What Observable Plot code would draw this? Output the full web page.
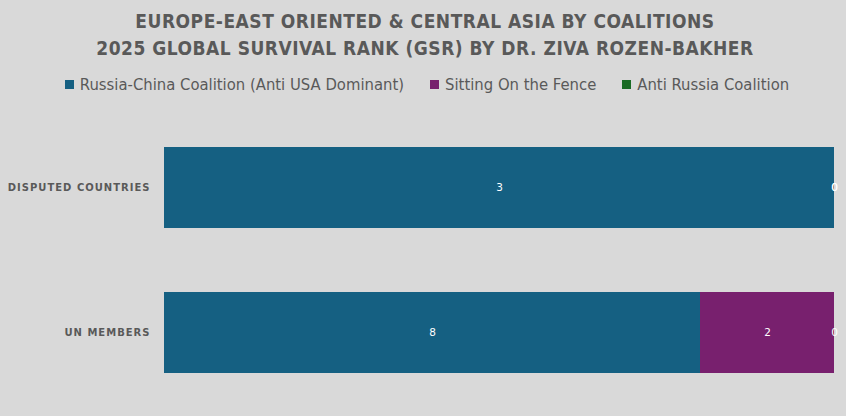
<!DOCTYPE html>
<html>
<head>
<meta charset="utf-8">
<script src="https://cdn.jsdelivr.net/npm/d3@7"></script>
<script src="https://cdn.jsdelivr.net/npm/@observablehq/plot@0.6"></script>
<style>
  html, body { margin: 0; padding: 0; background: #d9d9d9; width: 846px; height: 416px; overflow: hidden; }
  #title { position: absolute; left: 2px; top: 8px; width: 846px; text-align: center; color: #595959;
    font-family: "DejaVu Sans Condensed", sans-serif; font-weight: bold;
    font-size: 19px; line-height: 27px; letter-spacing: 0.5px; }
  #legend { position: absolute; left: 4px; top: 75px; width: 846px; display: flex; justify-content: center;
    gap: 26px; color: #595959; font-family: "DejaVu Sans Condensed", sans-serif; font-size: 16.5px; }
  #legend .item { display: flex; align-items: center; gap: 6px; }
  #legend .sw { width: 9px; height: 9px; display: inline-block; }
  #chart { position: absolute; left: 0; top: 100px; }
  #chart g[aria-label="y-axis tick label"] text { letter-spacing: 1.0px; }
</style>
</head>
<body>
<div id="title"></div>
<div id="legend"></div>
<div id="chart"></div>
<script>
const titleLines = ["EUROPE-EAST ORIENTED & CENTRAL ASIA BY COALITIONS", "2025 GLOBAL SURVIVAL RANK (GSR) BY DR. ZIVA ROZEN-BAKHER"];
const categories = ["DISPUTED COUNTRIES", "UN MEMBERS"];
const seriesNames = ["Russia-China Coalition (Anti USA Dominant)", "Sitting On the Fence", "Anti Russia Coalition"];
const seriesColors = ["#156082", "#78206E", "#196B24"];
const russiaChina = [3, 8];
const sittingOnFence = [0, 2];
const antiRussia = [0, 0];

document.getElementById("title").innerHTML = titleLines.join("<br>");
const legend = document.getElementById("legend");
seriesNames.forEach((n, i) => {
  const it = document.createElement("span");
  it.className = "item";
  it.innerHTML = `<span class="sw" style="background:${seriesColors[i]}"></span><span>${n}</span>`;
  legend.appendChild(it);
});

const seriesValues = [russiaChina, sittingOnFence, antiRussia];
const data = [];
categories.forEach((c, ci) => {
  seriesNames.forEach((s, si) => {
    data.push({category: c, series: s, value: seriesValues[si][ci]});
  });
});

const plot = Plot.plot({
  width: 846,
  height: 316,
  marginLeft: 164,
  marginRight: 12,
  marginTop: 15,
  marginBottom: 10,
  style: {background: "transparent", fontFamily: "DejaVu Sans, sans-serif"},
  x: {axis: null, domain: [0, 1]},
  y: {domain: categories, paddingInner: 0.44, paddingOuter: 0.22, label: null},
  color: {domain: seriesNames, range: seriesColors},
  marks: [
    Plot.barX(data, Plot.stackX({offset: "normalize", x: "value", y: "category", fill: "series", z: "series", order: seriesNames})),
    Plot.text(data, Plot.stackX({offset: "normalize", x: "value", y: "category", z: "series", order: seriesNames, text: d => String(d.value), fill: "white", fontSize: 10.5})),
    Plot.axisY({tickSize: 0, tickPadding: 14, fontSize: 10, fontWeight: "bold", fill: "#595959", label: null})
  ]
});
document.getElementById("chart").appendChild(plot);
</script>
</body>
</html>
